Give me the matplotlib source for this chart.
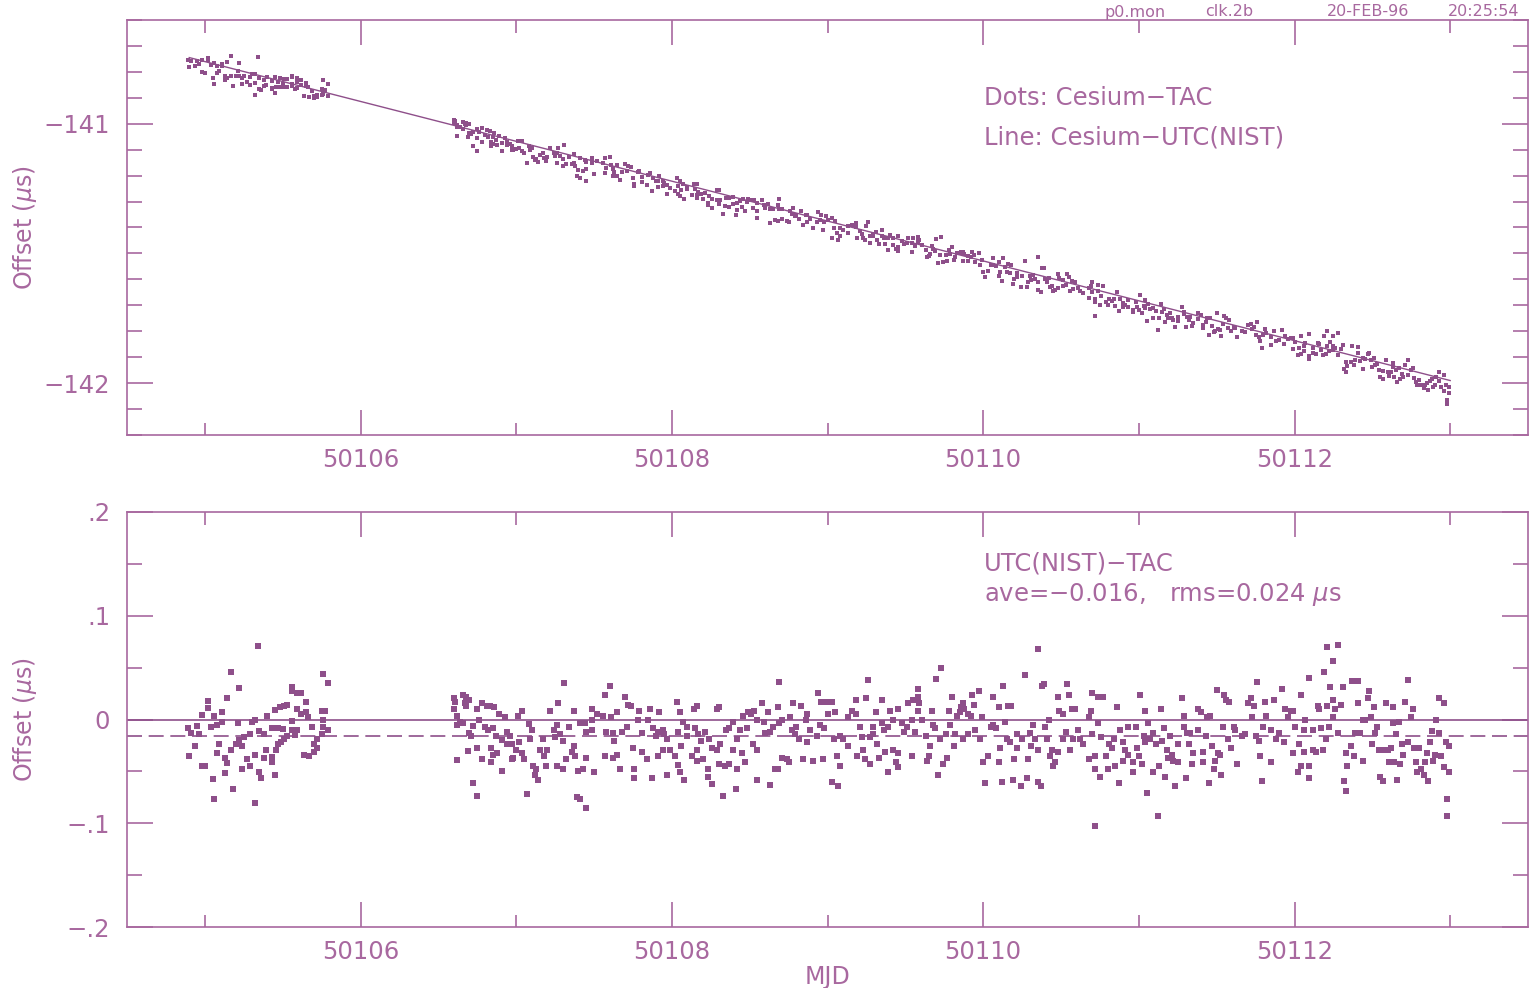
import numpy as np
import matplotlib
matplotlib.use("Agg")
import matplotlib.pyplot as plt
from matplotlib.ticker import MultipleLocator

# Residuals UTC(NIST)-TAC in microseconds, by stretch of MJD.
mjd_1 = [50105.34, 50105.17, 50105.22, 50105.14, 50105.02, 50105.02, 50104.98, 50105.11, 50105.06, 50105.11,
         50104.89, 50104.95, 50104.91, 50104.96, 50105.04, 50105.08, 50104.94, 50104.90, 50105.00, 50104.98,
         50105.05, 50105.06, 50105.18, 50105.13, 50105.14, 50105.13, 50105.08, 50105.09, 50105.17, 50105.20,
         50105.22, 50105.24, 50105.21, 50105.30, 50105.32, 50105.25, 50105.29, 50105.35, 50105.38, 50105.40,
         50105.32, 50105.27, 50105.29, 50105.24, 50105.35, 50105.36, 50105.32, 50105.39, 50105.38, 50105.43,
         50105.43, 50105.45, 50105.46, 50105.47, 50105.49, 50105.51, 50105.43, 50105.47, 50105.50, 50105.45,
         50105.48, 50105.51, 50105.53, 50105.56, 50105.56, 50105.59, 50105.62, 50105.56, 50105.56, 50105.59,
         50105.58, 50105.53, 50105.59, 50105.65, 50105.62, 50105.65, 50105.66, 50105.69, 50105.72, 50105.70,
         50105.72, 50105.64, 50105.67, 50105.70, 50105.75, 50105.77, 50105.76, 50105.76, 50105.79, 50105.76,
         50105.79, 50105.75]
res_1 = [0.071, 0.046, 0.030, 0.021, 0.018, 0.011, 0.004, 0.007, 0.003, -0.002,
         -0.008, -0.006, -0.013, -0.014, -0.007, -0.005, -0.026, -0.035, -0.045, -0.045,
         -0.057, -0.077, -0.067, -0.052, -0.042, -0.037, -0.032, -0.024, -0.029, -0.024,
         -0.020, -0.026, -0.003, -0.002, 0.000, -0.017, -0.014, -0.011, -0.014, 0.003,
         -0.034, -0.038, -0.045, -0.048, -0.051, -0.056, -0.080, -0.029, -0.037, -0.036,
         -0.041, -0.053, -0.029, -0.024, -0.022, -0.019, -0.008, -0.008, -0.009, 0.009,
         0.012, 0.013, 0.014, -0.001, 0.027, 0.026, 0.026, 0.031, -0.010, -0.010,
         -0.015, -0.016, 0.010, 0.017, 0.005, 0.007, 0.002, -0.007, -0.019, -0.024,
         -0.027, -0.034, -0.035, -0.031, 0.008, 0.008, 0.000, -0.007, -0.010, 0.044,
         0.035, -0.014]

mjd_2 = [50106.60, 50106.61, 50106.66, 50106.68, 50106.70, 50106.67, 50106.60, 50106.68, 50106.62, 50106.64,
         50106.66, 50106.62, 50106.70, 50106.71, 50106.72, 50106.76, 50106.78, 50106.75, 50106.81, 50106.83,
         50106.86, 50106.80, 50106.82, 50106.85, 50106.69, 50106.75, 50106.84, 50106.85, 50106.88, 50106.78,
         50106.84, 50106.62, 50106.91, 50106.72, 50106.75, 50106.89, 50106.93, 50106.87, 50106.91, 50106.94,
         50106.96, 50106.94, 50106.97, 50106.98, 50106.97, 50107.00, 50107.02, 50107.01, 50107.04, 50107.04,
         50107.05, 50107.07, 50107.09, 50107.10, 50107.08, 50107.11, 50107.13, 50107.12, 50107.14, 50107.15,
         50107.17, 50107.18, 50107.19, 50107.20, 50107.22, 50107.24, 50107.26, 50107.27, 50107.31, 50107.25,
         50107.28, 50107.30, 50107.26, 50107.30, 50107.32, 50107.34, 50107.36, 50107.37, 50107.38, 50107.37,
         50107.39, 50107.41, 50107.45, 50107.40, 50107.43, 50107.41, 50107.44, 50107.45, 50107.49, 50107.49,
         50107.49, 50107.45, 50107.50, 50107.52, 50107.56, 50107.57, 50107.60, 50107.58, 50107.57, 50107.61,
         50107.62, 50107.63, 50107.62, 50107.65, 50107.65, 50107.67, 50107.68, 50107.70, 50107.71, 50107.72,
         50107.74, 50107.75, 50107.76, 50107.76, 50107.78, 50107.79, 50107.81, 50107.81, 50107.84, 50107.86,
         50107.85, 50107.87, 50107.88, 50107.90]
res_2 = [0.021, 0.017, 0.024, 0.022, 0.019, 0.016, 0.010, 0.013, 0.003, -0.002,
         -0.003, -0.005, -0.013, -0.016, -0.006, 0.000, 0.016, 0.010, 0.013, 0.013,
         0.012, -0.007, -0.010, -0.008, -0.030, -0.027, -0.027, -0.034, -0.032, -0.038,
         -0.041, -0.039, -0.050, -0.061, -0.074, 0.005, 0.002, -0.016, -0.020, -0.012,
         -0.016, -0.024, -0.024, -0.037, -0.038, -0.029, -0.022, 0.003, 0.008, -0.032,
         -0.038, -0.072, -0.019, -0.010, -0.004, -0.045, -0.048, -0.053, -0.058, -0.029,
         -0.019, -0.035, -0.045, -0.029, 0.008, -0.010, -0.005, 0.016, 0.035, -0.017,
         -0.014, -0.021, -0.045, -0.048, -0.038, -0.007, -0.031, -0.026, -0.035, 0.008,
         -0.075, -0.077, -0.085, -0.050, -0.048, -0.003, -0.003, -0.012, 0.010, 0.000,
         -0.010, -0.037, -0.051, 0.005, 0.003, 0.024, 0.032, -0.012, -0.035, 0.002,
         -0.013, -0.021, -0.037, -0.034, 0.007, -0.048, -0.012, 0.022, -0.007, 0.014,
         0.013, -0.027, -0.048, -0.056, 0.000, 0.008, -0.013, -0.031, -0.038, 0.010,
         0.000, -0.056, -0.008, -0.016]

mjd_3 = [50107.92, 50107.94, 50107.91, 50107.95, 50107.97, 50107.94, 50107.99, 50108.02, 50107.91, 50107.97,
         50108.03, 50108.05, 50108.07, 50108.04, 50108.06, 50108.10, 50108.10, 50108.04, 50108.05, 50108.08,
         50108.13, 50108.14, 50108.16, 50108.15, 50108.16, 50108.16, 50108.17, 50108.19, 50108.20, 50108.21,
         50108.23, 50108.23, 50108.24, 50108.26, 50108.26, 50108.29, 50108.30, 50108.29, 50108.31, 50108.30,
         50108.33, 50108.34, 50108.35, 50108.37, 50108.37, 50108.39, 50108.41, 50108.39, 50108.42, 50108.42,
         50108.44, 50108.45, 50108.46, 50108.47, 50108.48, 50108.49, 50108.51, 50108.52, 50108.53, 50108.55,
         50108.55, 50108.58, 50108.59, 50108.60, 50108.55, 50108.62, 50108.63, 50108.63, 50108.65, 50108.66,
         50108.68, 50108.68, 50108.69, 50108.69, 50108.71, 50108.71, 50108.74, 50108.75, 50108.76, 50108.77,
         50108.78, 50108.79, 50108.80, 50108.82, 50108.83, 50108.84, 50108.86, 50108.87, 50108.87, 50108.89,
         50108.91, 50108.94, 50108.96, 50108.99, 50109.03, 50108.93, 50108.95, 50108.97, 50108.98, 50109.00,
         50109.03, 50109.04, 50109.05, 50109.06, 50109.07, 50109.08, 50109.08, 50109.10, 50109.13, 50109.13,
         50109.16, 50109.18, 50109.18, 50109.19, 50109.21, 50109.22, 50109.23, 50109.24, 50109.25, 50109.26,
         50109.27, 50109.29]
res_3 = [0.007, -0.010, -0.012, -0.014, -0.019, -0.029, -0.029, -0.035, -0.035, -0.053,
         0.017, 0.007, -0.002, -0.012, -0.026, -0.007, -0.016, -0.044, -0.051, -0.058,
         -0.035, 0.010, 0.013, -0.008, -0.029, -0.040, -0.014, -0.021, -0.038, -0.012,
         -0.048, -0.055, -0.019, -0.027, -0.062, 0.010, 0.012, -0.029, -0.024, -0.043,
         -0.074, -0.045, -0.010, -0.008, -0.043, -0.029, -0.067, -0.002, -0.048, -0.019,
         -0.010, -0.032, 0.003, -0.041, -0.008, 0.007, 0.005, -0.024, 0.008, -0.029,
         0.000, 0.016, -0.002, -0.013, -0.058, 0.007, -0.063, -0.012, -0.007, -0.048,
         -0.048, 0.012, 0.036, -0.003, 0.000, -0.037, -0.038, -0.041, 0.002, -0.010,
         0.016, -0.014, -0.007, -0.019, 0.013, -0.038, 0.000, -0.022, 0.005, -0.010,
         -0.040, 0.026, 0.017, 0.017, 0.017, -0.016, -0.005, -0.038, -0.008, 0.005,
         -0.060, -0.019, 0.007, -0.035, -0.064, -0.045, -0.016, -0.019, -0.026, 0.002,
         0.008, 0.019, 0.005, -0.035, -0.007, -0.017, -0.029, -0.038, 0.021, 0.038,
         -0.043, -0.014]

mjd_4 = [50109.27, 50109.29, 50109.31, 50109.32, 50109.33, 50109.35, 50109.35, 50109.36, 50109.37, 50109.39,
         50109.39, 50109.40, 50109.42, 50109.42, 50109.44, 50109.45, 50109.45, 50109.45, 50109.48, 50109.49,
         50109.51, 50109.52, 50109.54, 50109.54, 50109.55, 50109.56, 50109.58, 50109.58, 50109.59, 50109.58,
         50109.61, 50109.63, 50109.64, 50109.65, 50109.66, 50109.67, 50109.68, 50109.69, 50109.70, 50109.73,
         50109.71, 50109.72, 50109.74, 50109.76, 50109.77, 50109.78, 50109.79, 50109.80, 50109.81, 50109.82,
         50109.83, 50109.85, 50109.86, 50109.87, 50109.88, 50109.87, 50109.90, 50109.90, 50109.92, 50109.93,
         50109.94, 50109.95, 50109.97, 50109.98, 50109.99, 50110.00, 50110.01, 50110.03, 50110.05, 50110.06,
         50110.06, 50110.08, 50110.10, 50110.10, 50110.11, 50110.12, 50110.13, 50110.14, 50110.15, 50110.16,
         50110.17, 50110.18, 50110.19, 50110.20, 50110.22, 50110.22, 50110.24, 50110.25, 50110.27, 50110.28,
         50110.29, 50110.30, 50110.31, 50110.32, 50110.33, 50110.35, 50110.35, 50110.37, 50110.38, 50110.39,
         50110.40, 50110.41, 50110.42, 50110.43, 50110.44, 50110.45, 50110.46, 50110.48, 50110.48, 50110.49,
         50110.51, 50110.51, 50110.53, 50110.54, 50110.55, 50110.56, 50110.57, 50110.58, 50110.35]
res_4 = [-0.017, -0.007, 0.007, -0.024, -0.037, 0.019, -0.003, -0.010, -0.031, -0.007,
         -0.051, 0.008, -0.029, 0.000, -0.041, -0.032, 0.010, -0.046, -0.003, -0.012,
         -0.007, 0.016, -0.035, 0.000, 0.019, -0.012, 0.029, 0.022, 0.016, 0.008,
         0.000, -0.016, -0.040, -0.035, -0.026, 0.008, -0.005, -0.008, 0.039, 0.050,
         -0.053, -0.019, -0.043, -0.014, -0.037, 0.008, -0.005, 0.022, -0.026, -0.014,
         0.003, 0.007, 0.012, 0.016, 0.010, -0.019, 0.005, -0.014, 0.003, 0.024,
         0.014, -0.010, 0.027, -0.019, 0.002, -0.041, -0.061, -0.035, -0.007, -0.005,
         0.022, -0.008, -0.041, 0.012, -0.027, -0.060, 0.032, -0.002, -0.019, 0.013,
         -0.022, 0.013, -0.058, -0.038, -0.027, -0.014, -0.064, -0.019, 0.043, -0.056,
         -0.038, -0.013, -0.026, -0.005, -0.019, -0.060, -0.029, -0.064, 0.032, 0.034,
         -0.007, -0.019, 0.000, -0.035, -0.029, -0.045, -0.041, 0.022, -0.031, 0.008,
         -0.019, 0.005, -0.012, 0.034, 0.024, -0.029, 0.010, -0.019, 0.068]

mjd_5 = [50110.59, 50110.61, 50110.62, 50110.64, 50110.69, 50110.68, 50110.70, 50110.74, 50110.77, 50110.68,
         50110.70, 50110.72, 50110.72, 50110.75, 50110.72, 50110.74, 50110.76, 50110.79, 50110.80, 50110.81,
         50110.83, 50110.84, 50110.85, 50110.86, 50110.87, 50110.88, 50110.90, 50110.90, 50110.91, 50110.93,
         50110.93, 50110.96, 50110.96, 50110.98, 50110.99, 50111.00, 50111.02, 50111.01, 50111.03, 50111.04,
         50111.04, 50111.05, 50111.06, 50111.07, 50111.09, 50111.09, 50111.11, 50111.12, 50111.13, 50111.14,
         50111.15, 50111.16, 50111.17, 50111.18, 50111.19, 50111.20, 50111.21, 50111.22, 50111.23, 50111.25,
         50111.25, 50111.28, 50111.29, 50111.29, 50111.30, 50111.31, 50111.32, 50111.33, 50111.34, 50111.35,
         50111.38, 50111.38, 50111.40, 50111.41, 50111.41, 50111.43, 50111.44, 50111.45, 50111.46, 50111.47,
         50111.48, 50111.49, 50111.50, 50111.51, 50111.52, 50111.53, 50111.54, 50111.55, 50111.56, 50111.57,
         50111.58, 50111.59, 50111.61, 50111.62, 50111.63, 50111.66, 50111.68, 50111.70, 50111.72, 50111.73,
         50111.74, 50111.75, 50111.76, 50111.77, 50111.78, 50111.79, 50111.80, 50111.81, 50111.82, 50111.85,
         50111.85, 50111.87, 50111.88, 50111.90, 50111.92, 50111.93, 50111.94, 50111.96, 50111.99, 50111.99]
res_5 = [0.010, -0.010, -0.019, -0.024, 0.008, 0.002, 0.026, 0.022, 0.022, -0.038,
         -0.014, -0.035, -0.048, -0.055, -0.103, -0.003, -0.017, -0.035, -0.048, -0.024,
         -0.027, -0.019, -0.045, 0.012, -0.061, -0.010, -0.040, -0.022, -0.029, -0.007,
         -0.034, -0.041, -0.051, -0.007, -0.027, -0.035, -0.043, 0.024, -0.016, 0.008,
         -0.022, -0.071, -0.003, -0.019, -0.051, -0.013, -0.024, -0.093, -0.045, 0.010,
         -0.021, -0.008, -0.055, -0.029, -0.037, -0.016, -0.034, -0.040, -0.064, -0.024,
         -0.041, 0.021, 0.003, -0.007, -0.056, -0.013, -0.024, -0.013, -0.043, -0.032,
         0.010, -0.010, 0.007, -0.031, -0.041, -0.016, 0.002, -0.061, 0.003, -0.026,
         -0.048, -0.040, 0.028, -0.032, -0.034, -0.053, -0.007, 0.024, 0.019, -0.019,
         0.017, -0.027, -0.007, -0.010, -0.043, -0.016, -0.014, 0.016, 0.021, 0.002,
         0.013, -0.016, 0.036, -0.021, -0.035, -0.059, -0.007, 0.017, 0.003, -0.041,
         -0.010, 0.019, -0.019, -0.013, 0.029, -0.022, 0.010, 0.002, 0.008, -0.032]

mjd_6 = [50111.98, 50112.00, 50112.02, 50112.03, 50112.04, 50112.04, 50112.06, 50112.06, 50112.07, 50112.09,
         50112.09, 50112.09, 50112.12, 50112.12, 50112.14, 50112.15, 50112.16, 50112.17, 50112.18, 50112.19,
         50112.20, 50112.21, 50112.21, 50112.22, 50112.23, 50112.25, 50112.25, 50112.25, 50112.26, 50112.28,
         50112.28, 50112.30, 50112.31, 50112.32, 50112.33, 50112.33, 50112.34, 50112.36, 50112.37, 50112.38,
         50112.39, 50112.41, 50112.41, 50112.42, 50112.44, 50112.44, 50112.45, 50112.47, 50112.48, 50112.49,
         50112.50, 50112.51, 50112.52, 50112.53, 50112.54, 50112.55, 50112.57, 50112.57, 50112.59, 50112.60,
         50112.61, 50112.62, 50112.63, 50112.63, 50112.64, 50112.65, 50112.66, 50112.67, 50112.68, 50112.69,
         50112.70, 50112.71, 50112.73, 50112.73, 50112.75, 50112.76, 50112.77, 50112.78, 50112.79, 50112.80,
         50112.81, 50112.83, 50112.84, 50112.85, 50112.86, 50112.87, 50112.88, 50112.89, 50112.90, 50112.91,
         50112.93, 50112.93, 50112.94, 50112.96, 50112.96, 50112.97, 50112.98, 50112.98, 50112.99, 50112.99]
res_6 = [0.008, -0.007, -0.051, -0.024, 0.024, -0.045, -0.010, -0.031, 0.000, -0.056,
         0.040, -0.045, -0.029, -0.010, -0.031, 0.013, 0.010, -0.008, -0.029, 0.046,
         -0.019, 0.070, 0.013, -0.007, 0.031, 0.002, 0.056, 0.019, 0.010, 0.072,
         -0.013, 0.014, 0.031, -0.059, -0.069, -0.032, -0.045, -0.026, 0.037, -0.035,
         -0.013, 0.037, 0.016, -0.013, 0.000, -0.040, 0.000, 0.021, 0.027, 0.002,
         -0.024, 0.012, -0.013, -0.007, -0.029, -0.055, -0.029, -0.059, 0.016, -0.029,
         -0.041, -0.027, 0.012, -0.003, -0.041, -0.014, -0.058, -0.002, -0.043, -0.024,
         -0.034, 0.017, 0.038, -0.022, 0.002, 0.010, -0.027, -0.041, -0.051, -0.027,
         -0.048, -0.053, -0.041, -0.032, -0.059, -0.022, -0.011, -0.040, -0.034, 0.000,
         0.021, -0.013, -0.035, -0.046, 0.016, -0.022, -0.077, -0.093, -0.051, -0.026]

# Cesium-UTC(NIST) line (upper panel)
line_mjd = [50104.9, 50113.0]
line_off = [-140.745, -141.99]

ave = -0.016
rms = 0.024

top_ticks = [-141, -142]
top_ticklabels = ["\u2212141", "\u2212142"]
bot_ticks = [0.2, 0.1, 0.0, -0.1, -0.2]
bot_ticklabels = [".2", ".1", "0", "\u2212.1", "\u2212.2"]
x_ticks = [50106, 50108, 50110, 50112]
header = ["p0.mon", "clk.2b", "20-FEB-96", "20:25:54"]

dot_color = "#8E4F8A"
ink = "#A8689F"

mjd = np.concatenate([mjd_1, mjd_2, mjd_3, mjd_4, mjd_5, mjd_6])
res = np.concatenate([res_1, res_2, res_3, res_4, res_5, res_6])
# Cesium-TAC = (Cesium-UTC(NIST)) + (UTC(NIST)-TAC)
cs_tac = np.interp(mjd, line_mjd, line_off) + res

fig = plt.figure(figsize=(15.32, 9.88), dpi=100)
ax1 = fig.add_axes([0.0829, 0.5597, 0.9145, 0.4201])
ax2 = fig.add_axes([0.0829, 0.0617, 0.9145, 0.4201])

for ax in (ax1, ax2):
    ax.set_xlim(50104.5, 50113.5)
    ax.xaxis.set_minor_locator(MultipleLocator(1))
    ax.set_xticks(x_ticks)
    ax.set_xticklabels([str(t) for t in x_ticks])
    for s in ax.spines.values():
        s.set_color(ink)
        s.set_linewidth(1.2)
    ax.tick_params(which="both", direction="in", top=True, right=True,
                   color=ink, width=1.2, labelcolor=ink, labelsize=17.5)
    ax.tick_params(axis="x", which="major", length=18, pad=9)
    ax.tick_params(axis="x", which="minor", length=9)
    ax.tick_params(axis="y", which="major", length=19, pad=12)
    ax.tick_params(axis="y", which="minor", length=11)

# upper panel
ax1.plot(line_mjd, line_off, color=dot_color, lw=1.0)
ax1.scatter(mjd, cs_tac, s=5, marker="s", color=dot_color, linewidths=0)
ax1.set_ylim(-142.2, -140.6)
ax1.set_yticks(top_ticks)
ax1.set_yticklabels(top_ticklabels)
ax1.yaxis.set_minor_locator(MultipleLocator(0.1))
ax1.text(0.6117, 0.812, "Dots: Cesium\u2212TAC", transform=ax1.transAxes,
         color=ink, fontsize=17.5, va="center")
ax1.text(0.6117, 0.7157, "Line: Cesium\u2212UTC(NIST)", transform=ax1.transAxes,
         color=ink, fontsize=17.5, va="center")

# lower panel
ax2.axhline(0, color=dot_color, lw=1.2)
ax2.axhline(ave, color=dot_color, lw=1.2, ls=(0, (9, 4)))
ax2.scatter(mjd, res, s=24, marker="s", color=dot_color, linewidths=0)
ax2.set_ylim(-0.2, 0.2)
ax2.set_yticks(bot_ticks)
ax2.set_yticklabels(bot_ticklabels)
ax2.yaxis.set_minor_locator(MultipleLocator(0.05))
ax2.set_xlabel("MJD", color=ink, fontsize=17, labelpad=1)
ax2.text(0.6117, 0.877, "UTC(NIST)\u2212TAC", transform=ax2.transAxes,
         color=ink, fontsize=17.5, va="center")
ax2.text(0.6117, 0.80, "ave=\u2212%.3f,   rms=%.3f $\\mu$s" % (abs(ave), rms),
         transform=ax2.transAxes, color=ink, fontsize=17.5, va="center")

fig.text(25 / 1532, 1 - 228 / 988, "Offset ($\\mu$s)", rotation=90, color=ink,
         fontsize=17, ha="center", va="center")
fig.text(25 / 1532, 1 - 720 / 988, "Offset ($\\mu$s)", rotation=90, color=ink,
         fontsize=17, ha="center", va="center")

for label, xpx in zip(header, [1105, 1205, 1327, 1448]):
    fig.text(xpx / 1532, 1 - 12 / 988, label, color=ink, fontsize=11.5,
             ha="left", va="center")

fig.savefig("out.png", dpi=100)
